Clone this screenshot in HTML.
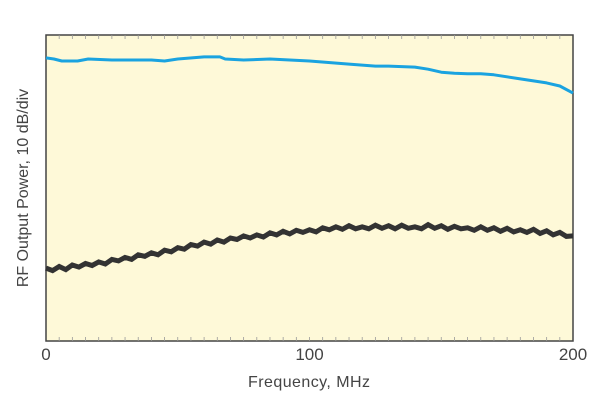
<!DOCTYPE html>
<html><head><meta charset="utf-8"><style>
body{margin:0;background:#fff;}
svg{display:block;font-family:"Liberation Sans",sans-serif;}
</style></head><body>
<svg width="600" height="403" viewBox="0 0 600 403">
<rect x="46" y="35" width="527" height="306" fill="#fef9d8" stroke="#444" stroke-width="1.5"/>
<g id="ticks"></g>
<g id="series"></g>
<g id="labels" font-size="17" fill="#444"></g>
<text x="309" y="387" text-anchor="middle" font-size="16" fill="#444" textLength="122">Frequency, MHz</text>
<text transform="translate(28,188) rotate(-90)" text-anchor="middle" font-size="16" fill="#444">RF Output Power, 10 dB/div</text>
</svg>
<script>
const xTicks=[0,100,200];
const blueFreq=[0,3,6,12,16,25,40,45,50,60,66,68,75,85,100,115,125,130,140,145,150,155,160,165,170,180,190,195,200];
const blueDb=[55.5,55.3,54.9,54.9,55.3,55.1,55.1,54.9,55.3,55.7,55.7,55.3,55.1,55.3,54.9,54.3,53.9,53.9,53.7,53.3,52.7,52.5,52.4,52.4,52.2,51.4,50.6,50.0,48.6];
const blackDb=[14.3,13.8,14.6,14.0,14.9,14.5,15.2,14.8,15.5,
15.1,16.0,15.7,16.4,16.0,16.9,16.6,17.3,
16.9,17.8,17.5,18.3,18.0,18.9,18.6,19.4,
19.0,19.8,19.4,20.2,19.9,20.6,20.2,20.8,
20.4,21.2,20.8,21.5,21.0,21.7,21.3,21.8,
21.4,22.2,21.8,22.4,21.9,22.6,22.0,22.4,
22.0,22.7,22.1,22.6,22.0,22.7,22.1,22.4,
22.0,22.8,22.1,22.6,21.9,22.5,22.0,22.2,
21.7,22.4,21.7,22.2,21.5,22.1,21.4,21.8,
21.3,21.9,21.1,21.6,20.8,21.3,20.5,20.6];
const blackStep=2.5;
const NS="http://www.w3.org/2000/svg";
const X=f=>46+f*527/200;
const Y=d=>341-d*306/60;
const tg=document.getElementById('ticks');
for(let f=5;f<200;f+=5){
  for(const [y1,y2] of [[341,337],[35,39]]){
    const l=document.createElementNS(NS,'line');
    l.setAttribute('x1',X(f));l.setAttribute('x2',X(f));l.setAttribute('y1',y1);l.setAttribute('y2',y2);
    l.setAttribute('stroke','#999');l.setAttribute('stroke-width','0.8');
    
    
    tg.appendChild(l);
  }
}
const lg=document.getElementById('labels');
xTicks.forEach(t=>{
  const e=document.createElementNS(NS,'text');
  e.setAttribute('x',X(t));e.setAttribute('y',360);e.setAttribute('text-anchor','middle');
  e.textContent=t;
  
  
  lg.appendChild(e);
});
const sg=document.getElementById('series');
const bp=document.createElementNS(NS,'path');
bp.setAttribute('d',blackDb.map((v,i)=>(i?'L':'M')+X(i*blackStep).toFixed(1)+','+Y(v).toFixed(1)).join(''));
bp.setAttribute('fill','none');bp.setAttribute('stroke','#333');bp.setAttribute('stroke-width','5');bp.setAttribute('stroke-linejoin','miter');


sg.appendChild(bp);
const cp=document.createElementNS(NS,'path');
cp.setAttribute('d',blueFreq.map((f,i)=>(i?'L':'M')+X(f).toFixed(1)+','+Y(blueDb[i]).toFixed(1)).join(''));
cp.setAttribute('fill','none');cp.setAttribute('stroke','#1aa3e0');cp.setAttribute('stroke-width','3');cp.setAttribute('stroke-linejoin','round');


sg.appendChild(cp);
</script>
</body></html>
